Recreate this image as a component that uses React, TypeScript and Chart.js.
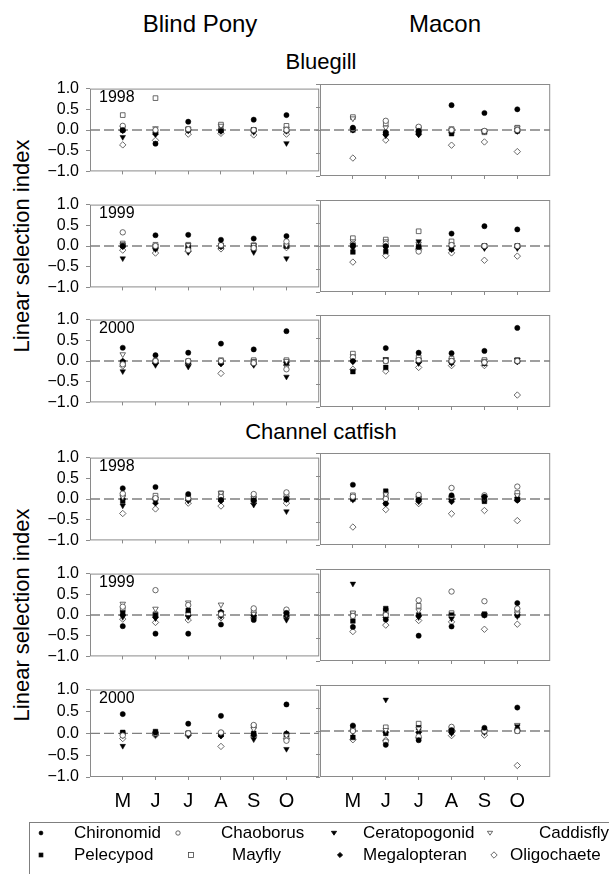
import React, { useEffect, useRef } from 'react';
import { Chart, registerables } from 'chart.js';
Chart.register(...registerables);

const FONT = '"Liberation Sans", Arial, Helvetica, sans-serif';

// ---------- data ----------
const months = ['M', 'J', 'J', 'A', 'S', 'O'];
const seriesNames = ['Chironomid', 'Chaoborus', 'Ceratopogonid', 'Caddisfly', 'Pelecypod', 'Mayfly', 'Megalopteran', 'Oligochaete'];
const yTickValues = [-1, -0.5, 0, 0.5, 1];
const years = ['1998', '1999', '2000'];
const sites = ['Blind Pony', 'Macon'];
const fishes = ['Bluegill', 'Channel catfish'];
const yTitle = 'Linear selection index';

// rows follow seriesNames order, columns follow months
const bluegillBlindPony1998 = [
  [0.0, -0.33, 0.2, -0.02, 0.25, 0.36],
  [0.1, 0.0, 0.02, 0.0, 0.0, 0.0],
  [-0.17, -0.1, -0.02, -0.03, -0.05, -0.32],
  [0.05, 0.04, 0.03, 0.1, 0.0, 0.03],
  [0.0, -0.05, 0.0, 0.0, 0.0, 0.0],
  [0.36, 0.77, 0.02, 0.13, 0.0, 0.1],
  [-0.02, -0.1, 0.0, 0.0, -0.03, -0.03],
  [-0.36, -0.25, -0.1, -0.08, -0.12, -0.1],
];
const bluegillMacon1998 = [
  [0.05, -0.05, -0.02, 0.54, 0.37, 0.45],
  [0.03, 0.2, 0.07, 0.0, -0.02, 0.0],
  [0.0, -0.12, -0.1, -0.05, -0.02, 0.0],
  [0.25, 0.05, 0.02, 0.0, -0.03, 0.05],
  [0.0, -0.08, -0.05, -0.08, -0.03, -0.02],
  [0.28, 0.14, 0.05, 0.02, -0.05, 0.05],
  [0.0, -0.1, -0.1, -0.06, -0.03, -0.03],
  [-0.61, -0.22, -0.04, -0.33, -0.26, -0.47],
];
const bluegillBlindPony1999 = [
  [0.0, 0.26, 0.27, 0.15, 0.18, 0.24],
  [0.33, 0.0, -0.1, 0.02, -0.05, 0.11],
  [-0.3, -0.08, -0.15, -0.02, -0.15, -0.3],
  [0.02, 0.0, 0.02, 0.03, 0.02, 0.02],
  [0.02, -0.05, 0.0, 0.0, 0.0, 0.0],
  [0.06, 0.03, 0.03, 0.0, 0.02, 0.0],
  [-0.02, -0.05, -0.05, 0.02, -0.02, 0.0],
  [-0.1, -0.17, -0.13, -0.07, -0.08, -0.04],
];
const bluegillMacon1999 = [
  [0.02, 0.0, -0.02, 0.27, 0.43, 0.36],
  [0.05, 0.05, -0.12, 0.02, 0.0, 0.0],
  [-0.05, -0.05, 0.1, -0.03, -0.05, -0.05],
  [0.1, 0.1, 0.05, 0.03, 0.0, 0.0],
  [-0.13, -0.12, 0.0, -0.05, 0.0, 0.0],
  [0.17, 0.14, 0.32, 0.1, 0.0, 0.0],
  [0.0, 0.0, -0.05, -0.08, -0.03, -0.03],
  [-0.35, -0.21, -0.08, -0.15, -0.31, -0.22],
];
const bluegillBlindPony2000 = [
  [0.32, 0.14, 0.2, 0.42, 0.28, 0.72],
  [-0.08, 0.0, 0.0, 0.0, -0.05, -0.2],
  [-0.25, -0.1, -0.14, -0.05, -0.1, -0.38],
  [0.16, -0.02, -0.02, 0.0, 0.0, 0.0],
  [-0.03, -0.02, -0.03, -0.03, -0.02, -0.05],
  [-0.05, 0.0, 0.0, 0.02, 0.02, 0.02],
  [0.0, -0.05, -0.05, -0.07, -0.05, -0.03],
  [-0.12, -0.05, -0.08, -0.3, -0.08, -0.1],
];
const bluegillMacon2000 = [
  [0.0, 0.28, 0.18, 0.17, 0.22, 0.72],
  [0.08, 0.0, 0.02, 0.0, -0.03, 0.0],
  [-0.02, 0.04, -0.05, -0.05, -0.05, 0.02],
  [0.1, 0.02, 0.03, 0.02, 0.0, 0.03],
  [-0.23, -0.14, 0.0, -0.02, -0.05, 0.0],
  [0.16, 0.0, 0.08, 0.05, 0.02, 0.02],
  [0.0, 0.0, -0.03, -0.03, -0.02, -0.02],
  [-0.18, -0.22, -0.14, -0.1, -0.1, -0.74],
];
const catfishBlindPony1998 = [
  [0.26, 0.29, 0.12, -0.02, -0.03, 0.0],
  [0.13, 0.02, 0.02, 0.05, 0.12, 0.16],
  [-0.16, -0.05, -0.04, 0.02, -0.14, -0.3],
  [0.05, 0.0, -0.03, 0.14, 0.03, 0.03],
  [-0.05, 0.0, 0.0, 0.0, 0.0, 0.0],
  [0.1, 0.08, 0.05, 0.14, 0.0, 0.09],
  [0.0, -0.1, -0.03, -0.05, -0.05, -0.02],
  [-0.35, -0.24, -0.1, -0.17, -0.1, -0.1],
];
const catfishMacon1998 = [
  [0.31, -0.1, -0.02, 0.08, 0.05, -0.02],
  [0.05, 0.0, 0.09, 0.24, 0.08, 0.27],
  [-0.02, -0.02, -0.05, -0.04, 0.03, 0.0],
  [0.05, 0.1, 0.02, 0.02, 0.02, 0.08],
  [0.0, 0.17, 0.0, 0.0, -0.05, 0.0],
  [0.08, 0.05, 0.02, 0.02, 0.0, 0.13],
  [0.0, -0.1, -0.05, -0.06, 0.05, -0.03],
  [-0.61, -0.23, -0.1, -0.32, -0.25, -0.47],
];
const catfishBlindPony1999 = [
  [-0.27, -0.45, -0.45, -0.23, -0.12, 0.05],
  [0.2, 0.6, 0.24, 0.02, 0.16, 0.13],
  [-0.05, -0.08, -0.05, -0.03, -0.05, -0.12],
  [0.27, 0.15, 0.3, 0.25, 0.03, 0.02],
  [0.05, 0.0, 0.11, 0.05, 0.0, 0.0],
  [0.14, 0.02, 0.02, 0.0, 0.1, 0.08],
  [0.0, -0.06, -0.02, 0.08, -0.02, -0.02],
  [-0.1, -0.18, -0.12, -0.07, -0.07, -0.05],
];
const catfishMacon1999 = [
  [-0.26, -0.1, -0.45, -0.25, 0.0, 0.26],
  [-0.02, 0.0, 0.32, 0.51, 0.3, 0.14],
  [0.68, 0.1, -0.05, -0.08, 0.0, -0.03],
  [0.05, 0.0, 0.1, -0.05, 0.0, 0.03],
  [-0.13, 0.14, 0.0, 0.0, 0.02, 0.0],
  [0.03, 0.05, 0.2, 0.04, 0.0, 0.1],
  [0.0, -0.05, -0.02, 0.0, 0.0, 0.0],
  [-0.36, -0.22, -0.12, -0.15, -0.31, -0.2],
];
const catfishBlindPony2000 = [
  [0.44, 0.02, 0.22, 0.4, -0.02, 0.66],
  [-0.05, 0.0, 0.0, 0.02, 0.19, -0.17],
  [-0.29, -0.03, -0.05, -0.05, -0.14, -0.36],
  [-0.05, -0.02, -0.02, 0.0, 0.1, -0.05],
  [0.02, 0.04, 0.0, -0.03, 0.0, -0.02],
  [0.0, 0.0, 0.0, 0.0, 0.16, -0.1],
  [0.0, -0.03, -0.02, -0.06, -0.05, 0.0],
  [-0.12, -0.05, -0.05, -0.3, -0.08, -0.12],
];
const catfishMacon2000 = [
  [0.12, -0.3, -0.2, 0.02, 0.07, 0.51],
  [0.0, -0.23, -0.12, 0.09, 0.0, 0.0],
  [-0.02, 0.68, -0.05, -0.05, -0.03, 0.1],
  [0.0, 0.02, 0.05, 0.0, -0.02, 0.13],
  [-0.14, -0.05, 0.07, 0.0, 0.0, 0.03],
  [0.08, 0.08, 0.16, 0.05, 0.0, 0.0],
  [0.0, -0.03, -0.03, -0.03, 0.02, 0.02],
  [-0.19, -0.2, -0.15, -0.1, -0.09, -0.75],
];

// ---------- styles ----------
type Marker = { style: string; fill: boolean; radius: number; rotation: number };
const markers: Marker[] = [
  { style: 'circle', fill: true, radius: 2.6, rotation: 0 },
  { style: 'circle', fill: false, radius: 2.7, rotation: 0 },
  { style: 'triangle', fill: true, radius: 3.2, rotation: 180 },
  { style: 'triangle', fill: false, radius: 3.2, rotation: 180 },
  { style: 'rect', fill: true, radius: 3.3, rotation: 0 },
  { style: 'rect', fill: false, radius: 3.3, rotation: 0 },
  { style: 'rectRot', fill: true, radius: 3.0, rotation: 0 },
  { style: 'rectRot', fill: false, radius: 3.2, rotation: 0 },
];

const FRAME = '#8a8a8a';
const COL_LEFT = [90, 320];
const COL_WIDTH = [231, 232];
const ROW_TOP = [84, 200, 315, 453, 569, 685];
const ROW_H = 92;

const framePlugin = {
  id: 'frame',
  beforeDatasetsDraw(chart: any) {
    const { ctx, chartArea: a } = chart;
    ctx.save();
    ctx.strokeStyle = FRAME;
    ctx.lineWidth = 1;
    ctx.strokeRect(a.left + 0.5, a.top + 0.5, a.right - a.left - 1, a.bottom - a.top - 1);
    ctx.restore();
  },
};

const fmtTick = (v: number) => (v < 0 ? '\u2212' : '') + Math.abs(v).toFixed(1);

type PanelProps = { values: number[][]; col: number; row: number };

function Panel({ values, col, row }: PanelProps) {
  const ref = useRef<HTMLCanvasElement>(null);
  const yLabels = col === 0;
  const xLabels = row === ROW_TOP.length - 1;
  const padL = yLabels ? 62 : 8;
  const padR = 3;
  const padT = 12;
  const padB = xLabels ? 48 : 12;
  const w = padL + COL_WIDTH[col] + padR;
  const h = padT + ROW_H + padB;

  useEffect(() => {
    if (!ref.current) return;
    const datasets: any[] = seriesNames.map((name, s) => {
      const m = markers[s];
      return {
        type: 'scatter',
        label: name,
        data: values[s].map((v, i) => ({ x: i + 1, y: v })),
        pointStyle: m.style,
        pointRadius: m.radius,
        pointRotation: m.rotation,
        backgroundColor: m.fill ? '#000' : '#fff',
        borderColor: m.fill ? '#000' : '#444',
        borderWidth: m.fill ? 0.5 : 0.8,
      };
    });
    datasets.push({
      type: 'line',
      label: 'zero',
      data: [{ x: 0, y: 0 }, { x: 7, y: 0 }],
      borderColor: '#808080',
      borderWidth: 1.3,
      borderDash: [10, 4],
      pointRadius: 0,
      fill: false,
    });
    const chart = new Chart(ref.current, {
      type: 'scatter',
      data: { datasets },
      plugins: [framePlugin],
      options: {
        animation: false,
        responsive: false,
        events: [],
        layout: { padding: { left: 0, right: padR, top: padT, bottom: 0 } },
        plugins: { legend: { display: false }, tooltip: { enabled: false } },
        scales: {
          x: {
            type: 'linear',
            min: 0,
            max: 7,
            afterBuildTicks: (sc: any) => {
              sc.ticks = months.map((_, i) => ({ value: i + 1 }));
            },
            afterFit: (sc: any) => {
              sc.height = padB;
            },
            ticks: {
              display: xLabels,
              autoSkip: false,
              maxRotation: 0,
              padding: 9,
              color: '#000',
              font: { family: FONT, size: 20 },
              callback: (v: any) => months[Number(v) - 1] ?? '',
            },
            grid: { drawOnChartArea: false, drawTicks: true, tickLength: 3, color: FRAME },
            border: { display: false },
          },
          y: {
            type: 'linear',
            min: -1,
            max: 1,
            afterBuildTicks: (sc: any) => {
              sc.ticks = yTickValues.map((v) => ({ value: v }));
            },
            afterFit: (sc: any) => {
              sc.width = padL;
            },
            ticks: {
              display: yLabels,
              autoSkip: false,
              padding: 7,
              color: '#000',
              font: { family: FONT, size: 16 },
              callback: (v: any) => fmtTick(Number(v)),
            },
            grid: { drawOnChartArea: false, drawTicks: true, tickLength: 4, color: FRAME },
            border: { display: false },
          },
        },
      } as any,
    });
    return () => chart.destroy();
  }, [values, col, row]);

  return (
    <canvas
      ref={ref}
      width={w}
      height={h}
      style={{ position: 'absolute', left: COL_LEFT[col] - padL, top: ROW_TOP[row] - padT, width: w, height: h }}
    />
  );
}

const panelGrid = [
  [bluegillBlindPony1998, bluegillMacon1998],
  [bluegillBlindPony1999, bluegillMacon1999],
  [bluegillBlindPony2000, bluegillMacon2000],
  [catfishBlindPony1998, catfishMacon1998],
  [catfishBlindPony1999, catfishMacon1999],
  [catfishBlindPony2000, catfishMacon2000],
];

function CenterText({ text, cx, cy, size }: { text: string; cx: number; cy: number; size: number }) {
  const lh = Math.round(size * 1.2);
  return (
    <div
      style={{
        position: 'absolute',
        left: cx - 200,
        width: 400,
        top: cy - lh / 2,
        height: lh,
        lineHeight: lh + 'px',
        fontSize: size,
        textAlign: 'center',
        whiteSpace: 'nowrap',
      }}
    >
      {text}
    </div>
  );
}

function Sym({ k, cx, cy }: { k: number; cx: number; cy: number }) {
  const m = markers[k];
  const fill = m.fill ? '#000' : '#fff';
  const stroke = m.fill ? '#000' : '#444';
  let shape: any;
  if (m.style === 'circle') shape = <circle cx={5} cy={5} r={m.fill ? 1.9 : 2.2} fill={fill} stroke={stroke} strokeWidth={0.8} />;
  else if (m.style === 'triangle') shape = <polygon points="2.4,3.3 7.6,3.3 5,7.2" fill={fill} stroke={stroke} strokeWidth={0.8} />;
  else if (m.style === 'rect') shape = <rect x={m.fill ? 3.1 : 2.5} y={m.fill ? 3.1 : 2.5} width={m.fill ? 3.8 : 5} height={m.fill ? 3.8 : 5} fill={fill} stroke={stroke} strokeWidth={0.8} />;
  else shape = <polygon points={m.fill ? '5,2.4 7.6,5 5,7.6 2.4,5' : '5,1.8 8.2,5 5,8.2 1.8,5'} fill={fill} stroke={stroke} strokeWidth={0.8} />;
  return (
    <svg width={10} height={10} style={{ position: 'absolute', left: cx - 5, top: cy - 5 }}>
      {shape}
    </svg>
  );
}

const legendRows = [
  [0, 1, 2, 3],
  [4, 5, 6, 7],
];
const legendSymX = [
  [41, 178, 334, 490],
  [41, 191, 340, 494],
];
const legendTextX = [
  [74, 221, 363, 539],
  [74, 232, 363, 510],
];
const legendRowY = [833, 855];

export default function App() {
  useEffect(() => {
    document.body.style.margin = '0';
    document.body.style.overflow = 'hidden';
  }, []);
  return (
    <div
      style={{
        position: 'absolute',
        left: 0,
        top: 0,
        width: 609,
        height: 874,
        overflow: 'hidden',
        background: '#fff',
        fontFamily: FONT,
        color: '#000',
      }}
    >
      <CenterText text={sites[0]} cx={200} cy={23} size={24} />
      <CenterText text={sites[1]} cx={445} cy={23} size={24} />
      <CenterText text={fishes[0]} cx={321} cy={62} size={22} />
      <CenterText text={fishes[1]} cx={321} cy={432} size={22} />

      {[0, 1].map((blk) => {
        const cy = blk === 0 ? (ROW_TOP[0] + ROW_TOP[2] + ROW_H) / 2 : (ROW_TOP[3] + ROW_TOP[5] + ROW_H) / 2;
        return (
          <div
            key={'yt' + blk}
            style={{
              position: 'absolute',
              left: 22 - 150,
              top: cy - 13,
              width: 300,
              height: 26,
              lineHeight: '26px',
              fontSize: 22,
              textAlign: 'center',
              whiteSpace: 'nowrap',
              transform: 'rotate(-90deg)',
            }}
          >
            {yTitle}
          </div>
        );
      })}

      {panelGrid.map((pair, row) =>
        pair.map((values, col) => <Panel key={row + '-' + col} values={values} col={col} row={row} />)
      )}

      {ROW_TOP.map((t, row) => (
        <div
          key={'yr' + row}
          style={{ position: 'absolute', left: 99, top: t + 5, fontSize: 16, lineHeight: '16px', whiteSpace: 'nowrap' }}
        >
          {years[row % 3]}
        </div>
      ))}

      <div
        style={{
          position: 'absolute',
          left: 29,
          top: 822,
          width: 660,
          height: 80,
          border: '1px solid #7f7f7f',
          boxSizing: 'border-box',
        }}
      />
      {legendRows.map((r, ri) =>
        r.map((k, ci) => (
          <React.Fragment key={'lg' + k}>
            <Sym k={k} cx={legendSymX[ri][ci]} cy={legendRowY[ri]} />
            <div
              style={{
                position: 'absolute',
                left: legendTextX[ri][ci],
                top: legendRowY[ri] - 10,
                height: 20,
                lineHeight: '20px',
                fontSize: 17,
                whiteSpace: 'nowrap',
              }}
            >
              {seriesNames[k]}
            </div>
          </React.Fragment>
        ))
      )}
    </div>
  );
}
